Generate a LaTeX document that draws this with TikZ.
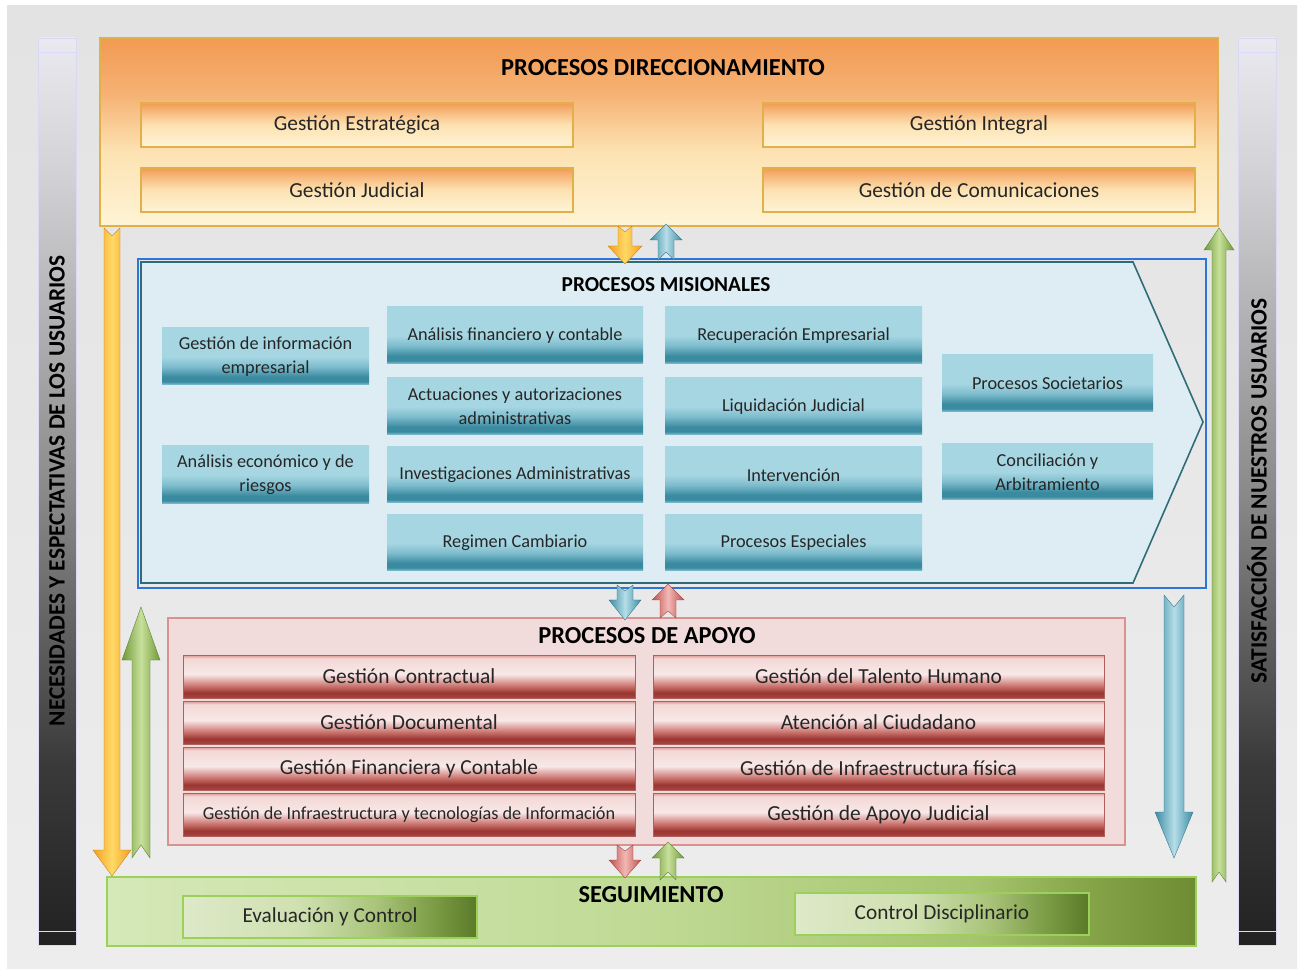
\documentclass[tikz,border=0pt]{standalone}
\usepackage{fontspec}
\setmainfont{Carlito}
\definecolor{bgA}{HTML}{E3E3E3}
\definecolor{bgB}{HTML}{EDEDED}
\definecolor{sdA}{HTML}{E9E9EF}
\definecolor{sdB}{HTML}{D2D2D6}
\definecolor{sdC}{HTML}{8A8A8A}
\definecolor{sdD}{HTML}{3A3A3A}
\definecolor{sdE}{HTML}{222222}
\definecolor{orA}{HTML}{F29A52}
\definecolor{orB}{HTML}{F6B274}
\definecolor{orC}{HTML}{FDE2B2}
\definecolor{orD}{HTML}{FEF4D6}
\definecolor{goldB}{HTML}{E2B04A}
\definecolor{tlA}{HTML}{A6D6E2}
\definecolor{tlB}{HTML}{3A8AA0}
\definecolor{tlC}{HTML}{7DBCCD}
\definecolor{tlD}{HTML}{8CC8D8}
\definecolor{misF}{HTML}{DEEDF3}
\definecolor{misD}{HTML}{2F6B78}
\definecolor{blueR}{HTML}{2E75D9}
\definecolor{apF}{HTML}{F2DCDB}
\definecolor{apD}{HTML}{D9928F}
\definecolor{rdA}{HTML}{D99490}
\definecolor{rdB}{HTML}{F3D8D6}
\definecolor{rdC}{HTML}{F8E8E7}
\definecolor{rdD}{HTML}{CF7B77}
\definecolor{rdE}{HTML}{9B3530}
\definecolor{rdF}{HTML}{A84540}
\definecolor{rdBd}{HTML}{B0605C}
\definecolor{sgA}{HTML}{D5E8B8}
\definecolor{sgB}{HTML}{C0DA95}
\definecolor{sgC}{HTML}{A6C46E}
\definecolor{sgD}{HTML}{86A448}
\definecolor{sgE}{HTML}{6E8C32}
\definecolor{sgBd}{HTML}{9BD05A}
\definecolor{evA}{HTML}{DDE9C8}
\definecolor{evB}{HTML}{CFE0B0}
\definecolor{evC}{HTML}{A9C47A}
\definecolor{evD}{HTML}{7A9A44}
\definecolor{evE}{HTML}{5A7A28}
\definecolor{arOe}{HTML}{F4A020}
\definecolor{arOm}{HTML}{FFD966}
\definecolor{arGe}{HTML}{6F9A3A}
\definecolor{arGm}{HTML}{C8E09A}
\definecolor{arTe}{HTML}{3D8EA5}
\definecolor{arTm}{HTML}{B6DDE8}
\definecolor{arRe}{HTML}{C0504D}
\definecolor{arRm}{HTML}{F2B8B5}
\pgfdeclareverticalshading{sidebar}{100bp}{color(0bp)=(sdE); color(25bp)=(sdE); color(35bp)=(sdD); color(50bp)=(sdC); color(67.5bp)=(sdB); color(75bp)=(sdA); color(100bp)=(sdA)}
\pgfdeclareverticalshading{orbig}{100bp}{color(0bp)=(orD); color(25bp)=(orD); color(45bp)=(orC); color(60bp)=(orB); color(75bp)=(orA); color(100bp)=(orA)}
\pgfdeclareverticalshading{orbox}{100bp}{color(0bp)=(orD); color(25bp)=(orD); color(50bp)=(orC); color(67.5bp)=(orB); color(75bp)=(orA); color(100bp)=(orA)}
\pgfdeclareverticalshading{tealbox}{100bp}{color(0bp)=(tlD); color(25bp)=(tlD); color(28bp)=(tlB); color(32bp)=(tlB); color(41bp)=(tlC); color(50bp)=(tlA); color(75bp)=(tlA); color(100bp)=(tlA)}
\pgfdeclareverticalshading{redbox}{100bp}{color(0bp)=(rdF); color(25bp)=(rdF); color(31bp)=(rdE); color(40bp)=(rdD); color(52.5bp)=(rdC); color(71bp)=(rdB); color(75bp)=(rdA); color(100bp)=(rdA)}
\pgfdeclarehorizontalshading{segbox}{100bp}{color(0bp)=(sgA); color(25bp)=(sgA); color(50bp)=(sgB); color(65bp)=(sgC); color(70bp)=(sgD); color(75bp)=(sgE); color(100bp)=(sgE)}
\pgfdeclarehorizontalshading{evbox}{100bp}{color(0bp)=(evA); color(25bp)=(evA); color(45bp)=(evB); color(58bp)=(evC); color(68bp)=(evD); color(75bp)=(evE); color(100bp)=(evE)}
\newcommand{\bx}[7]{\node[#2, minimum width={(#5-#3)*0.02cm}, minimum height={(#6-#4)*0.02cm}] (#1) at ({(#3+#5)/2},{(#4+#6)/2}) {#7};}
% vertical arrow: style, x, shaft half, head half, tail y, notch y, head base y, tip y
\newcommand{\vArrow}[8]{\path[#1] ({#2-#3},#5) -- (#2,#6) -- ({#2+#3},#5) -- ({#2+#3},#7) -- ({#2+#4},#7) -- (#2,#8) -- ({#2-#4},#7) -- ({#2-#3},#7) -- cycle;}
\begin{document}
\begin{tikzpicture}[x=0.02cm,y=-0.02cm,
  every node/.style={inner sep=0pt, outer sep=0pt, align=center},
  ttl/.style={font=\fontsize{13.9}{16}\selectfont\bfseries},
  sidetxt/.style={font=\fontsize{13.3}{15}\selectfont\bfseries, rotate=90},
  obox/.style={shading=orbox, draw=goldB, line width=0.7pt, font=\fontsize{12.2}{14}\selectfont, text=black!85},
  tbox/.style={shading=tealbox, font=\fontsize{10.4}{13.6}\selectfont, text=black!85},
  rbox/.style={shading=redbox, draw=rdBd, line width=0.4pt, font=\fontsize{12.2}{14}\selectfont, text=black!85},
  ebox/.style={shading=evbox, draw=sgBd, line width=0.7pt, font=\fontsize{12.1}{14}\selectfont, text=black!85},
  arO/.style={left color=arOe, right color=arOe, middle color=arOm, draw=arOe!80!black, line width=0.2pt},
  arG/.style={left color=arGe, right color=arGe, middle color=arGm, draw=arGe!80!black, line width=0.2pt},
  arT/.style={left color=arTe, right color=arTe, middle color=arTm, draw=arTe!80!black, line width=0.2pt},
  arR/.style={left color=arRe, right color=arRe, middle color=arRm, draw=arRe!80!black, line width=0.2pt}]
\useasboundingbox (0,0) rectangle (1301,972);
\fill[white] (0,0) rectangle (1301,972);
\path[top color=bgA, bottom color=bgB] (7,6) rectangle (1297,968);

% side bars
\path[shading=sidebar, draw=black!20!blue!15] (38,38) rectangle (76,945);
\draw[white!85!blue] (38,52) -- (76,52) (38,931) -- (76,931);
\node[sidetxt] (needs) at (57,491) {NECESIDADES Y ESPECTATIVAS DE LOS USUARIOS};
\path[shading=sidebar, draw=black!20!blue!15] (1238,38) rectangle (1276,945);
\draw[white!85!blue] (1238,52) -- (1276,52) (1238,931) -- (1276,931);
\node[sidetxt] (satis) at (1257,491) {SATISFACCIÓN DE NUESTROS USUARIOS};

% top block
\path[shading=orbig, draw=goldB, line width=0.8pt] (100,38) rectangle (1218,226);
\node[ttl] (tdir) at (663,68) {PROCESOS DIRECCIONAMIENTO};
\bx{gest}{obox}{141}{103}{573}{147}{Gestión Estratégica}
\bx{gjud}{obox}{141}{168}{573}{212}{Gestión Judicial}
\bx{gint}{obox}{763}{103}{1195}{147}{Gestión Integral}
\bx{gcom}{obox}{763}{168}{1195}{212}{Gestión de Comunicaciones}

% misionales
\path[fill=misF, draw=misD, line width=0.9pt] (141,262) -- (1133,262) -- (1203,422) -- (1133,583) -- (141,583) -- cycle;
\draw[blueR, line width=0.9pt] (138,259) rectangle (1206,588);
\node[font=\fontsize{12.1}{14}\selectfont\bfseries] (tmis) at (666,285) {PROCESOS MISIONALES};
\bx{m1}{tbox}{162}{328}{369}{385}{Gestión de información\\empresarial}
\bx{m2}{tbox}{162}{446}{369}{504}{Análisis económico y de\\riesgos}
\bx{m3}{tbox}{387}{307}{643}{364}{Análisis financiero y contable}
\bx{m4}{tbox}{387}{378}{643}{435}{Actuaciones y autorizaciones\\administrativas}
\bx{m5}{tbox}{387}{447}{643}{503}{Investigaciones Administrativas}
\bx{m6}{tbox}{387}{515}{643}{571}{Regimen Cambiario}
\bx{m7}{tbox}{665}{307}{922}{364}{Recuperación Empresarial}
\bx{m8}{tbox}{665}{378}{922}{435}{Liquidación Judicial}
\bx{m9}{tbox}{665}{447}{922}{503}{Intervención}
\bx{m10}{tbox}{665}{515}{922}{571}{Procesos Especiales}
\bx{m11}{tbox}{942}{355}{1153}{412}{Procesos Societarios}
\bx{m12}{tbox}{942}{444}{1153}{500}{Conciliación y\\Arbitramiento}

% apoyo
\path[fill=apF, draw=apD, line width=0.8pt] (168,618) rectangle (1125,845);
\node[ttl] (tapo) at (647,636) {PROCESOS DE APOYO};
\bx{a1}{rbox}{183}{655}{635}{698}{Gestión Contractual}
\bx{a2}{rbox}{183}{701}{635}{744}{Gestión Documental}
\bx{a3}{rbox}{183}{747}{635}{790}{Gestión Financiera y Contable}
\bx{a4}{rbox, font=\fontsize{10.4}{12}\selectfont}{183}{793}{635}{836}{Gestión de Infraestructura y tecnologías de Información}
\bx{a5}{rbox}{653}{655}{1104}{698}{Gestión del Talento Humano}
\bx{a6}{rbox}{653}{701}{1104}{744}{Atención al Ciudadano}
\bx{a7}{rbox}{653}{747}{1104}{790}{Gestión de Infraestructura física}
\bx{a8}{rbox}{653}{793}{1104}{836}{Gestión de Apoyo Judicial}

% seguimiento
\path[shading=segbox, draw=sgBd, line width=0.8pt] (107,877) rectangle (1196,946);
\node[ttl] (tseg) at (651,895) {SEGUIMIENTO};
\bx{s1}{ebox}{183}{896}{477}{938}{Evaluación y Control}
\bx{s2}{ebox}{795}{893}{1089}{935}{Control Disciplinario}

% arrows
\vArrow{arO}{112}{8}{19}{228}{236}{850}{876}
\vArrow{arG}{141}{9}{19}{858}{845}{660}{607}
\vArrow{arT}{1174}{10}{19}{595}{607}{812}{858}
\vArrow{arG}{1219}{7}{15}{882}{872}{250}{228}
\vArrow{arO}{625}{7}{17}{226}{232}{246}{264}
\vArrow{arT}{666}{8}{16}{260}{252}{240}{224}
\vArrow{arT}{625}{8}{16}{585}{591}{600}{620}
\vArrow{arR}{668}{8}{16}{618}{611}{600}{584}
\vArrow{arR}{625}{8}{16}{845}{851}{860}{878}
\vArrow{arG}{668}{8}{16}{880}{872}{858}{842}
\end{tikzpicture}
\end{document}
